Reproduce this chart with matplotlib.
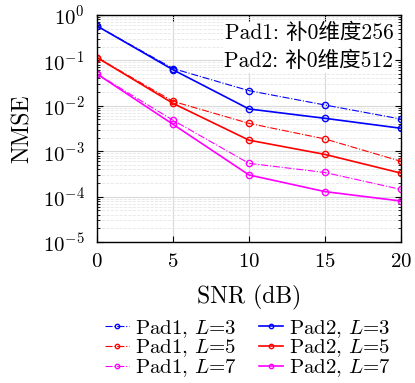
import matplotlib
matplotlib.use("Agg")
import matplotlib.pyplot as plt
from matplotlib.ticker import LogLocator, NullFormatter

plt.rcParams['font.family'] = ['cmr10', 'Noto Sans CJK SC']
plt.rcParams['mathtext.fontset'] = 'cm'
plt.rcParams['axes.formatter.use_mathtext'] = True

snr = [0, 5, 10, 15, 20]
pad1_L3 = [0.57, 0.066, 0.0215, 0.0104, 0.0051]
pad1_L5 = [0.115, 0.0125, 0.0041, 0.00186, 0.0006]
pad1_L7 = [0.05, 0.0048, 0.00054, 0.00034, 0.000144]
pad2_L3 = [0.57, 0.062, 0.0085, 0.0053, 0.0032]
pad2_L5 = [0.115, 0.0113, 0.00175, 0.00085, 0.00033]
pad2_L7 = [0.05, 0.0039, 0.0003, 0.000129, 0.00008]

series = [
    ("Pad1, $L$=3", pad1_L3, "#0000ff", "-."),
    ("Pad1, $L$=5", pad1_L5, "#ff0000", "-."),
    ("Pad1, $L$=7", pad1_L7, "#ff00ff", "-."),
    ("Pad2, $L$=3", pad2_L3, "#0000ff", "-"),
    ("Pad2, $L$=5", pad2_L5, "#ff0000", "-"),
    ("Pad2, $L$=7", pad2_L7, "#ff00ff", "-"),
]

fig = plt.figure(figsize=(4.15, 3.83), dpi=100)
ax = fig.add_axes([0.234, 0.368, 0.732, 0.593])

for label, vals, c, ls in series:
    lw = 0.8 if ls == "-." else 1.2
    ax.semilogy(snr, vals, ls, color=c, lw=lw, marker='o', ms=4.5,
                mfc='none', mec=c, mew=1.0, label=label)

ax.set_xlim(0, 20)
ax.set_ylim(1e-5, 1)
ax.set_xticks([0, 5, 10, 15, 20])
ax.yaxis.set_major_locator(LogLocator(base=10, numticks=10))
ax.yaxis.set_minor_locator(LogLocator(base=10, subs=range(2, 10), numticks=20))
ax.yaxis.set_minor_formatter(NullFormatter())
ax.tick_params(which='both', direction='in', top=True, right=True, labelsize=15)
ax.tick_params(axis='y', which='major', pad=9)
ax.tick_params(axis='x', which='major', pad=8)
ax.tick_params(which='major', length=4)
ax.tick_params(which='minor', length=2)
ax.grid(which='major', color='#d9d9d9', lw=0.8, ls='-')
ax.grid(which='minor', axis='y', color='#e6e6e6', lw=0.6, ls='--')
for s in ax.spines.values():
    s.set_linewidth(1.0)

ax.set_xlabel("SNR (dB)", fontsize=17, labelpad=10)
ax.set_ylabel("NMSE", fontsize=17, labelpad=6)

ax.text(0.975, 0.965, "Pad1: 补0维度256\nPad2: 补0维度512", transform=ax.transAxes,
        ha='right', va='top', fontsize=15.5, linespacing=1.5,
        bbox=dict(facecolor='white', edgecolor='none', pad=1))

handles, labels = ax.get_legend_handles_labels()
leg = fig.legend(handles, labels, loc='upper center', bbox_to_anchor=(0.598, 0.203),
                 ncol=2, frameon=False, fontsize=15, handlelength=1.15,
                 handletextpad=0.3, columnspacing=1.05, labelspacing=-0.1,
                 markerscale=0.7, borderpad=0.1)

fig.savefig("out.png", dpi=100)
